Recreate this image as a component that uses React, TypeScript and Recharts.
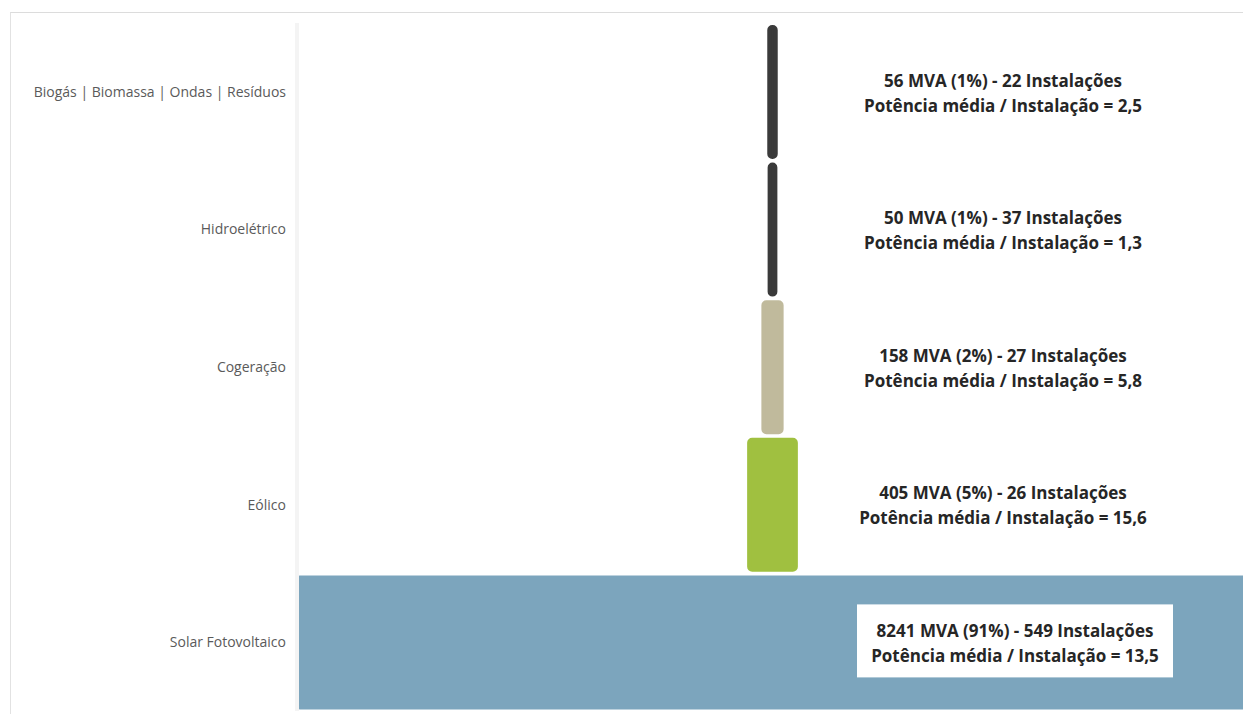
import { BarChart, Bar, XAxis, YAxis, LabelList, Cell } from 'recharts';

const categories = [
  'Biogás | Biomassa | Ondas | Resíduos',
  'Hidroelétrico',
  'Cogeração',
  'Eólico',
  'Solar Fotovoltaico',
];
const capacityMVA = [56, 50, 158, 405, 8241];
const sharePct = [1, 1, 2, 5, 91];
const installations = [22, 37, 27, 26, 549];
const avgPower = [2.5, 1.3, 5.8, 15.6, 13.5];
const colors = ['#3a3a3a', '#3a3a3a', '#c0ba9c', '#a0c040', '#7ca5bd'];

const maxMVA = Math.max(...capacityMVA);

// invisible "pad" bar centres each value bar -> funnel look
const data = categories.map((name, i) => ({
  name,
  pad: (maxMVA - capacityMVA[i]) / 2,
  mva: capacityMVA[i],
  idx: i,
}));

const fmt = (n: number) => n.toFixed(1).replace('.', ',');

const RowLabel = (props: any) => {
  const { y, height, value } = props;
  const i = Number(value);
  const cy = y + height / 2;
  const boxed = i === categories.length - 1;
  const cx = boxed ? 1015 : 1003;
  const style = { fontFamily: '"Open Sans", sans-serif', fontWeight: 700, fontSize: 17, fill: '#262626' };
  return (
    <g>
      {boxed && <rect x={cx - 158} y={cy - 38} width={316} height={73} fill="#ffffff" />}
      <text x={cx} y={cy - 12} textAnchor="middle" dominantBaseline="central" style={style}>
        {`${capacityMVA[i]} MVA (${sharePct[i]}%) - ${installations[i]} Instalações`}
      </text>
      <text x={cx} y={cy + 13} textAnchor="middle" dominantBaseline="central" style={style}>
        {`Potência média / Instalação = ${fmt(avgPower[i])}`}
      </text>
    </g>
  );
};

export default function App() {
  return (
    <div style={{ position: 'fixed', left: 0, top: 0, width: 1243, height: 714, background: '#fff', overflow: 'hidden' }}>
      <div
        style={{
          position: 'absolute',
          left: 10,
          top: 12,
          right: -2,
          bottom: -2,
          borderTop: '1px solid #dcdcdc',
          borderLeft: '1px solid #e2e2e2',
        }}
      />
      <div style={{ position: 'absolute', left: 0, top: 0 }}>
        <BarChart
          width={1243}
          height={714}
          data={data}
          layout="vertical"
          margin={{ top: 23, right: -5, bottom: 3, left: 0 }}
        >
          <XAxis type="number" hide domain={[0, maxMVA]} />
          <YAxis
            type="category"
            dataKey="name"
            width={297}
            tickLine={false}
            tickMargin={5}
            axisLine={{ stroke: '#f4f4f4', strokeWidth: 4 }}
            tick={{ fill: '#5a5a5a', fontSize: 14, fontFamily: '"Open Sans", sans-serif' }}
          />
          <Bar dataKey="pad" stackId="s" fill="transparent" barSize={130} isAnimationActive={false} />
          <Bar dataKey="mva" stackId="s" barSize={130} radius={3} strokeWidth={4} isAnimationActive={false}>
            {data.map((d, i) => (
              <Cell key={d.name} fill={colors[i]} stroke={colors[i]} />
            ))}
            <LabelList dataKey="idx" content={RowLabel} />
          </Bar>
        </BarChart>
      </div>
    </div>
  );
}
